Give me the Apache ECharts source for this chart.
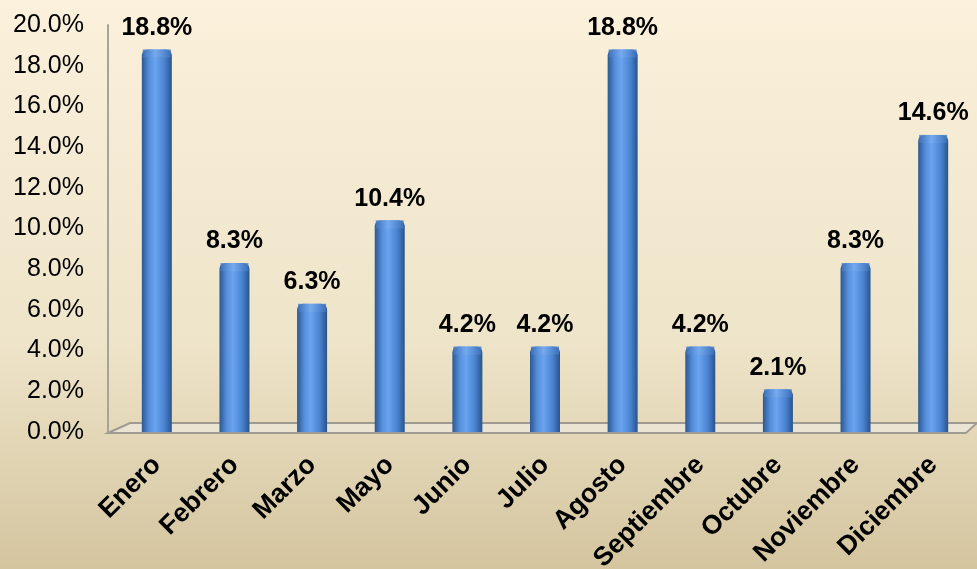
<!DOCTYPE html>
<html>
<head>
<meta charset="utf-8">
<script src="https://cdn.jsdelivr.net/npm/echarts@6/dist/echarts.min.js"></script>
<style>
  html, body { margin: 0; padding: 0; }
  #chart { width: 977px; height: 569px; }
</style>
</head>
<body>
<div id="chart"></div>
<script>
// datos
const months = ['Enero', 'Febrero', 'Marzo', 'Mayo', 'Junio', 'Julio', 'Agosto', 'Septiembre', 'Octubre', 'Noviembre', 'Diciembre']
const values = [18.8, 8.3, 6.3, 10.4, 4.2, 4.2, 18.8, 4.2, 2.1, 8.3, 14.6]
const yMin = 0
const yMax = 20
const yStep = 2

const chart = echarts.init(document.getElementById('chart'))

const barColor = new echarts.graphic.LinearGradient(0, 0, 1, 0, [
  { offset: 0, color: '#2c5891' },
  { offset: 0.25, color: '#5690dc' },
  { offset: 0.45, color: '#6aa3ee' },
  { offset: 0.75, color: '#4a84d2' },
  { offset: 1, color: '#2a538c' }
])

const capColor = new echarts.graphic.LinearGradient(0, 0, 1, 0, [
  { offset: 0, color: '#3f74bd' },
  { offset: 0.45, color: '#78acf0' },
  { offset: 1, color: '#3f74bd' }
])

const option = {
  backgroundColor: {
    type: 'linear', x: 0, y: 0, x2: 0, y2: 1,
    colorStops: [
      { offset: 0, color: '#fbf1dc' },
      { offset: 0.6, color: '#eee4c9' },
      { offset: 1, color: '#d4c59f' }
    ]
  },
  textStyle: { fontFamily: 'Liberation Sans, Arial, sans-serif' },
  grid: { left: 118, right: 5, top: 25, bottom: 137, containLabel: false, outerBoundsMode: 'none' },
  xAxis: {
    type: 'category',
    data: months,
    axisLine: { show: false },
    axisTick: { show: false },
    axisLabel: {
      interval: 0,
      rotate: 45,
      margin: 29,
      color: '#000',
      fontSize: 26.5,
      fontWeight: 'bold'
    }
  },
  yAxis: {
    type: 'value',
    min: yMin,
    max: yMax,
    interval: yStep,
    offset: 10,
    axisLine: { show: true, lineStyle: { color: '#a8a39a', width: 2 } },
    axisTick: { show: false },
    splitLine: { show: false },
    axisLabel: {
      margin: 24,
      color: '#000',
      fontSize: 25,
      formatter: v => v.toFixed(1) + '%'
    }
  },
  series: [
    {
      type: 'bar',
      data: values,
      barWidth: 30,
      z: 3,
      itemStyle: { color: barColor, borderRadius: [6, 6, 0, 0] },
      label: {
        show: true,
        position: 'top',
        distance: 9,
        color: '#000',
        fontSize: 25,
        fontWeight: 'bold',
        formatter: p => p.value.toFixed(1) + '%'
      }
    },
    {
      type: 'pictorialBar',
      data: values,
      symbol: 'ellipse',
      symbolSize: [28, 8],
      symbolPosition: 'end',
      symbolOffset: [0, '0%'],
      z: 4,
      itemStyle: { color: capColor, opacity: 0.8 },
      silent: true
    }
  ]
}

chart.setOption(option)

// suelo en perspectiva bajo las barras
const drawFloor = () => {
  const y0 = chart.convertToPixel({ yAxisIndex: 0 }, 0)
  const left = 108
  const right = 966
  chart.setOption({
    graphic: [{
      type: 'polygon',
      z: 0,
      shape: {
        points: [[left, y0 + 1], [left + 22, y0 - 9], [right + 11, y0 - 9], [right, y0 + 1]]
      },
      style: { fill: '#ebe4d2', stroke: '#a09b92', lineWidth: 2 }
    }]
  })
}
drawFloor()
</script>
</body>
</html>
